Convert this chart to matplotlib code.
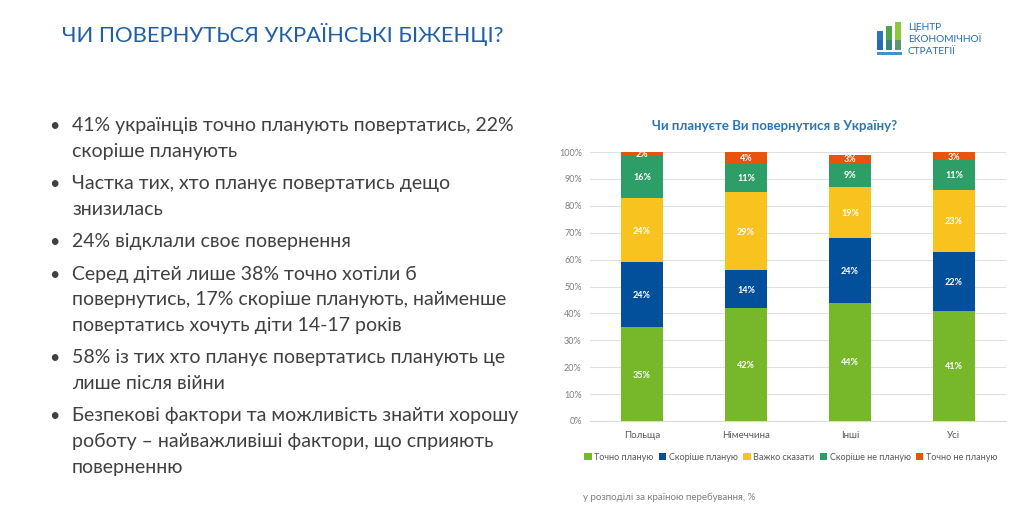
import matplotlib
matplotlib.use("Agg")
import matplotlib.pyplot as plt
from matplotlib.patches import Rectangle

plt.rcParams['font.family'] = ['Lato', 'DejaVu Sans']

categories = ['Польща', 'Німеччина', 'Інші', 'Усі']
series_names = ['Точно планую', 'Скоріше планую', 'Важко сказати', 'Скоріше не планую', 'Точно не планую']
values = {
    'Точно планую':      [35, 42, 44, 41],
    'Скоріше планую':    [24, 14, 24, 22],
    'Важко сказати':     [24, 29, 19, 23],
    'Скоріше не планую': [16, 11, 9, 11],
    'Точно не планую':   [2, 4, 3, 3],
}
colors = ['#76B82A', '#02509B', '#F9C31F', '#2E9E69', '#E8530E']
yticks = [0, 10, 20, 30, 40, 50, 60, 70, 80, 90, 100]

slide_title = 'ЧИ ПОВЕРНУТЬСЯ УКРАЇНСЬКІ БІЖЕНЦІ?'
chart_title = 'Чи плануєте Ви повернутися в Україну?'
note = 'у розподілі за країною перебування, %'
bullets = [
    ['41% українців точно планують повертатись, 22%', 'скоріше планують'],
    ['Частка тих, хто планує повертатись дещо', 'знизилась'],
    ['24% відклали своє повернення'],
    ['Серед дітей лише 38% точно хотіли б', 'повернутись, 17% скоріше планують, найменше', 'повертатись хочуть діти 14-17 років'],
    ['58% із тих хто планує повертатись планують це', 'лише після війни'],
    ['Безпекові фактори та можливість знайти хорошу', 'роботу – найважливіші фактори, що сприяють', 'поверненню'],
]
logo_lines = ['ЦЕНТР', 'ЕКОНОМІЧНОЇ', 'СТРАТЕГІЇ']

W, H = 1024, 512
fig = plt.figure(figsize=(W / 100, H / 100), dpi=100)
fig.patch.set_facecolor('white')

def fx(px):
    return px / W

def fy(py):
    return 1 - py / H

# Slide title
fig.text(fx(62), fy(34), slide_title, fontsize=15.8, color='#1F5FAA', va='center', ha='left')

# Bullets
y = 126
for group in bullets:
    fig.text(fx(49), fy(y), '•', fontsize=13, color='#404040', va='center', ha='left')
    for line in group:
        fig.text(fx(72), fy(y), line, fontsize=14, color='#404040', va='center', ha='left')
        y += 25.5
    y += 7

# Logo
bars_logo = [(877, 31, '#2F74B8'), (886, 26, '#4DA64A'), (895, 22, '#8DC63F')]
for x0, y0, c in bars_logo:
    fig.patches.append(Rectangle((fx(x0), fy(50)), fx(6), fy(y0) - fy(50), transform=fig.transFigure,
                                 facecolor=c, edgecolor='none'))
    fig.patches.append(Rectangle((fx(x0), fy(50)), fx(6), fy(40) - fy(50), transform=fig.transFigure,
                                 facecolor='#1F5FAA', edgecolor='none', alpha=0.45))
fig.patches.append(Rectangle((fx(877), fy(55)), fx(25), fy(52) - fy(55), transform=fig.transFigure,
                             facecolor='#4A90C8', edgecolor='none'))
for i, t in enumerate(logo_lines):
    fig.text(fx(908), fy(27 + i * 12.5), t, fontsize=7.3, color='#1F6DB5', va='center', ha='left')

# Chart
ax = fig.add_axes([fx(590), fy(421), fx(416), fy(152) - fy(421)])
ymax = 100
bottom = [0] * len(categories)
xs = list(range(len(categories)))
for name, c in zip(series_names, colors):
    vals = values[name]
    ax.bar(xs, vals, bottom=bottom, width=0.4, color=c, edgecolor='none', zorder=3)
    for xi, v, b in zip(xs, vals, bottom):
        top = min(b + v, ymax)
        ax.text(xi, (b + top) / 2 - 0.4, f'{v}%', ha='center', va='center', color='white',
                fontsize=6.5, fontweight='bold', zorder=4)
    bottom = [b + v for b, v in zip(bottom, vals)]

ax.set_xlim(-0.5, len(categories) - 0.5)
ax.set_ylim(0, ymax)
ax.set_yticks(yticks)
ax.set_yticklabels([f'{t}%' for t in yticks], fontsize=6.5, color='#7F7F7F')
ax.set_xticks(xs)
ax.set_xticklabels(categories, fontsize=7, color='#595959')
ax.tick_params(axis='y', length=0, pad=6)
ax.tick_params(axis='x', length=0, pad=7)
ax.grid(axis='y', color='#E0E0E0', linewidth=0.8, zorder=0)
for s in ax.spines.values():
    s.set_visible(False)
ax.spines['bottom'].set_visible(True)
ax.spines['bottom'].set_color('#D9D9D9')

fig.text(fx(775), fy(126), chart_title, fontsize=9.5, fontweight='bold', color='#2E75B6',
         ha='center', va='center')

handles = [Rectangle((0, 0), 1, 1, facecolor=c, edgecolor='none') for c in colors]
fig.legend(handles, series_names, loc='center', bbox_to_anchor=(fx(791), fy(457)), ncol=5,
           frameon=False, fontsize=6.5, handlelength=0.8, handleheight=0.8, handletextpad=0.3,
           columnspacing=0.6, labelcolor='#595959')

fig.text(fx(583), fy(497), note, fontsize=7, color='#7F7F7F', ha='left', va='center')

fig.savefig('out.png', dpi=100, facecolor='white')
